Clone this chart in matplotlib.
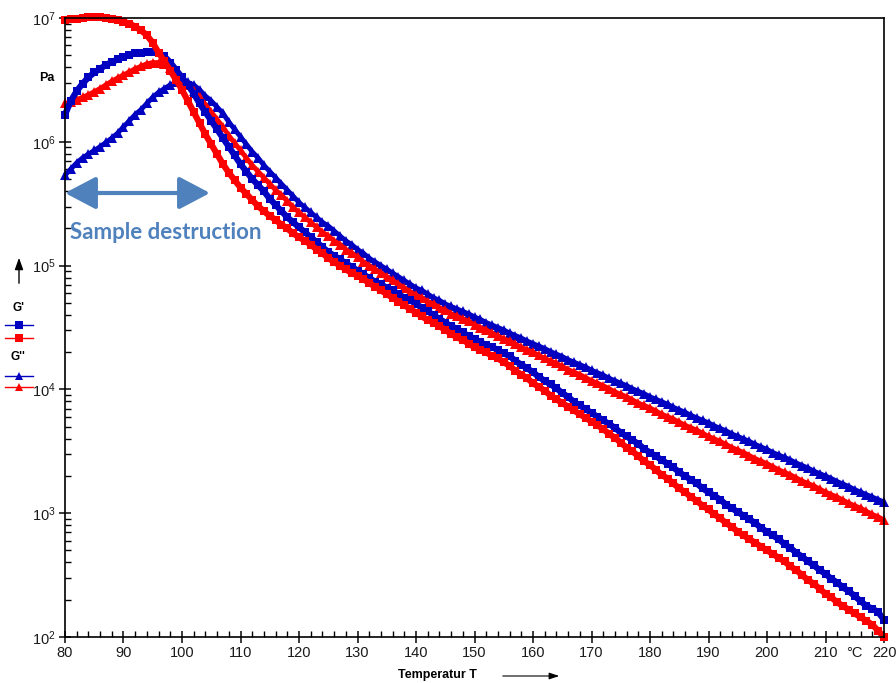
import numpy as np
import matplotlib.pyplot as plt
from matplotlib.lines import Line2D
from matplotlib.ticker import MultipleLocator, LogLocator, NullFormatter

plt.rcParams['font.family'] = ['Liberation Sans', 'DejaVu Sans']

# temperature in degC, one point per degree
temp = np.arange(80, 221)

# log10 of modulus in Pa
g1_blue_log = [
    6.22, 6.33, 6.41, 6.47, 6.52, 6.56, 6.59, 6.62, 6.645, 6.665,
    6.685, 6.70, 6.715, 6.72, 6.725, 6.725, 6.715, 6.69, 6.64, 6.58,
    6.52, 6.46, 6.39, 6.31, 6.24, 6.17, 6.10, 6.03, 5.96, 5.89,
    5.82, 5.76, 5.70, 5.65, 5.60, 5.54, 5.49, 5.44, 5.39, 5.35,
    5.31, 5.27, 5.23, 5.19, 5.15, 5.11, 5.08, 5.05, 5.02, 4.99,
    4.96, 4.93, 4.90, 4.87, 4.85, 4.82, 4.80, 4.77, 4.74, 4.72,
    4.69, 4.66, 4.63, 4.60, 4.57, 4.54, 4.51, 4.49, 4.46, 4.43,
    4.41, 4.38, 4.36, 4.34, 4.32, 4.29, 4.27, 4.23, 4.20, 4.17,
    4.14, 4.10, 4.07, 4.04, 4.01, 3.97, 3.94, 3.90, 3.87, 3.84,
    3.81, 3.78, 3.75, 3.72, 3.69, 3.65, 3.62, 3.59, 3.56, 3.52,
    3.49, 3.46, 3.43, 3.40, 3.37, 3.33, 3.30, 3.27, 3.24, 3.20,
    3.17, 3.14, 3.11, 3.07, 3.04, 3.01, 2.98, 2.95, 2.92, 2.88,
    2.85, 2.82, 2.79, 2.75, 2.72, 2.68, 2.65, 2.61, 2.58, 2.54,
    2.51, 2.47, 2.44, 2.40, 2.37, 2.33, 2.29, 2.25, 2.23, 2.20,
    2.14]

g1_red_log = [
    6.98, 6.99, 6.995, 7.0, 7.005, 7.005, 7.005, 7.0, 6.995, 6.985,
    6.97, 6.955, 6.93, 6.90, 6.86, 6.80, 6.72, 6.65, 6.575, 6.50,
    6.42, 6.33, 6.24, 6.15, 6.06, 5.98, 5.90, 5.82, 5.75, 5.69,
    5.63, 5.58, 5.53, 5.48, 5.44, 5.40, 5.37, 5.33, 5.30, 5.26,
    5.23, 5.20, 5.17, 5.13, 5.10, 5.06, 5.03, 5.00, 4.97, 4.94,
    4.92, 4.89, 4.86, 4.83, 4.80, 4.77, 4.74, 4.71, 4.68, 4.65,
    4.62, 4.59, 4.56, 4.54, 4.51, 4.48, 4.45, 4.42, 4.40, 4.37,
    4.34, 4.32, 4.30, 4.27, 4.25, 4.22, 4.19, 4.15, 4.12, 4.09,
    4.05, 4.02, 3.99, 3.95, 3.92, 3.89, 3.86, 3.83, 3.80, 3.77,
    3.74, 3.71, 3.68, 3.64, 3.61, 3.57, 3.53, 3.50, 3.46, 3.42,
    3.39, 3.35, 3.31, 3.28, 3.24, 3.20, 3.17, 3.13, 3.10, 3.06,
    3.03, 2.99, 2.96, 2.92, 2.89, 2.85, 2.82, 2.79, 2.76, 2.73,
    2.70, 2.67, 2.64, 2.61, 2.57, 2.54, 2.50, 2.46, 2.43, 2.39,
    2.35, 2.32, 2.28, 2.25, 2.22, 2.19, 2.16, 2.13, 2.10, 2.05,
    2.00]

g2_blue_log = [
    5.73, 5.78, 5.83, 5.87, 5.90, 5.93, 5.96, 5.995, 6.03, 6.07,
    6.12, 6.17, 6.22, 6.26, 6.31, 6.36, 6.40, 6.43, 6.46, 6.48,
    6.49, 6.48, 6.46, 6.42, 6.37, 6.33, 6.28, 6.23, 6.16, 6.10,
    6.04, 5.98, 5.92, 5.87, 5.81, 5.76, 5.71, 5.66, 5.61, 5.56,
    5.51, 5.47, 5.43, 5.39, 5.35, 5.32, 5.28, 5.24, 5.20, 5.17,
    5.13, 5.10, 5.06, 5.03, 5.00, 4.97, 4.94, 4.91, 4.88, 4.85,
    4.82, 4.80, 4.77, 4.74, 4.72, 4.69, 4.67, 4.65, 4.63, 4.61,
    4.585, 4.565, 4.54, 4.52, 4.50, 4.48, 4.455, 4.435, 4.415, 4.39,
    4.37, 4.35, 4.33, 4.305, 4.285, 4.265, 4.24, 4.22, 4.20, 4.18,
    4.155, 4.135, 4.115, 4.09, 4.07, 4.05, 4.03, 4.005, 3.985, 3.965,
    3.94, 3.92, 3.90, 3.88, 3.855, 3.835, 3.815, 3.79, 3.77, 3.75,
    3.73, 3.705, 3.685, 3.665, 3.64, 3.62, 3.60, 3.58, 3.555, 3.535,
    3.515, 3.49, 3.47, 3.45, 3.43, 3.405, 3.385, 3.365, 3.34, 3.32,
    3.30, 3.28, 3.255, 3.235, 3.215, 3.19, 3.17, 3.15, 3.13, 3.11,
    3.09]

g2_red_log = [
    6.31, 6.32, 6.34, 6.36, 6.38, 6.405, 6.43, 6.46, 6.49, 6.515,
    6.54, 6.565, 6.59, 6.61, 6.63, 6.64, 6.64, 6.63, 6.60, 6.56,
    6.51, 6.46, 6.41, 6.36, 6.30, 6.24, 6.18, 6.12, 6.05, 5.99,
    5.93, 5.87, 5.81, 5.76, 5.71, 5.66, 5.61, 5.57, 5.52, 5.47,
    5.43, 5.39, 5.35, 5.31, 5.27, 5.24, 5.20, 5.17, 5.13, 5.10,
    5.07, 5.03, 5.00, 4.97, 4.94, 4.91, 4.88, 4.85, 4.82, 4.79,
    4.76, 4.74, 4.71, 4.69, 4.66, 4.64, 4.61, 4.59, 4.57, 4.55,
    4.52, 4.50, 4.48, 4.455, 4.43, 4.41, 4.39, 4.365, 4.34, 4.32,
    4.30, 4.275, 4.25, 4.23, 4.21, 4.185, 4.16, 4.14, 4.12, 4.095,
    4.07, 4.05, 4.03, 4.005, 3.98, 3.96, 3.94, 3.915, 3.89, 3.87,
    3.85, 3.825, 3.80, 3.78, 3.76, 3.735, 3.71, 3.69, 3.67, 3.645,
    3.62, 3.60, 3.58, 3.555, 3.53, 3.51, 3.49, 3.465, 3.44, 3.42,
    3.40, 3.375, 3.35, 3.33, 3.31, 3.285, 3.26, 3.24, 3.22, 3.195,
    3.17, 3.15, 3.13, 3.105, 3.08, 3.06, 3.04, 3.015, 2.99, 2.97,
    2.945]

x_ticks = list(range(80, 221, 10))
x_labels = ['80', '90', '100', '110', '120', '130', '140', '150', '160',
            '170', '180', '190', '200', '210', '220']

BLUE = '#0000c0'
RED = '#ff0000'
ARROW_BLUE = '#4f81bd'

W, H = 896, 683
fig = plt.figure(figsize=(W / 100, H / 100), dpi=100)
ax = fig.add_axes([65 / W, 1 - 637 / H, (884 - 65) / W, (637 - 18) / H])

# each series: a thick band of the same colour under dense markers
series = [(g2_blue_log, BLUE, '^', 6.5, 3.5),
          (g2_red_log, RED, '^', 6.5, 3.5),
          (g1_blue_log, BLUE, 's', 6, 4.5),
          (g1_red_log, RED, 's', 6, 4.5)]
for vals, col, mk, ms, lw in series:
    ax.plot(temp, 10 ** np.array(vals), ls='-', lw=lw, marker=mk, ms=ms,
            mew=0, color=col, clip_on=False, solid_capstyle='butt')

ax.set_yscale('log')
ax.set_ylim(1e2, 1e7)
ax.set_xlim(80, 220)
ax.set_xticks(x_ticks)
ax.set_xticklabels(x_labels)
ax.xaxis.set_minor_locator(MultipleLocator(2))
ax.yaxis.set_minor_locator(LogLocator(base=10, subs=np.arange(2, 10)))
ax.yaxis.set_minor_formatter(NullFormatter())
ax.tick_params(which='major', direction='inout', length=9, width=1.2,
               labelsize=10.5, colors='#1a1a1a', pad=2)
ax.tick_params(which='minor', direction='in', length=4, width=1)
for s in ax.spines.values():
    s.set_linewidth(1.2)

# °C between 210 and 220, level with the tick labels
ax.text(215, -0.0146, '°C', transform=ax.get_xaxis_transform(),
        ha='center', va='top', fontsize=10.5, color='#1a1a1a')

# axis titles
fig.text(47 / W, 1 - 78 / H, 'Pa', ha='center', va='center',
         fontsize=9, fontweight='bold')
fig.text(437 / W, 1 - 675 / H, 'Temperatur T', ha='center', va='center',
         fontsize=9, fontweight='bold')
ax.annotate('', xy=(562 / W, 1 - 676 / H), xytext=(500 / W, 1 - 676 / H),
            xycoords='figure fraction', textcoords='figure fraction',
            arrowprops=dict(arrowstyle='-|>,head_length=0.6,head_width=0.2',
                            lw=0.8, color='black'))
ax.annotate('', xy=(19 / W, 1 - 255 / H), xytext=(19 / W, 1 - 286 / H),
            xycoords='figure fraction', textcoords='figure fraction',
            arrowprops=dict(arrowstyle='-|>,head_length=0.7,head_width=0.25',
                            lw=1, color='black'))

# left legend
fig.text(18 / W, 1 - 308 / H, "G'", ha='center', va='center',
         fontsize=8.5, fontweight='bold')
fig.text(18 / W, 1 - 357 / H, "G''", ha='center', va='center',
         fontsize=8.5, fontweight='bold')
for yy, col, mk in [(325, BLUE, 's'), (338, RED, 's'),
                    (376, BLUE, '^'), (387, RED, '^')]:
    fig.add_artist(Line2D([5 / W, 33 / W], [1 - yy / H, 1 - yy / H],
                          transform=fig.transFigure, color=col, lw=1))
    fig.add_artist(Line2D([19 / W], [1 - yy / H], transform=fig.transFigure,
                          color=col, marker=mk, ms=6, mew=0, ls='none'))

# sample destruction annotation
ax.annotate('', xy=(65 / W, 1 - 193 / H), xytext=(210 / W, 1 - 193 / H),
            xycoords='figure fraction', textcoords='figure fraction',
            arrowprops=dict(arrowstyle='<|-|>,head_length=0.95,head_width=0.5',
                            lw=3, color=ARROW_BLUE, shrinkA=0, shrinkB=0,
                            mutation_scale=20))
fig.text(70 / W, 1 - 233 / H, 'Sample destruction', ha='left', va='center',
         fontsize=16, fontweight='bold', color=ARROW_BLUE,
         family=['Lato', 'DejaVu Sans'])

fig.savefig('out.png', dpi=100)
